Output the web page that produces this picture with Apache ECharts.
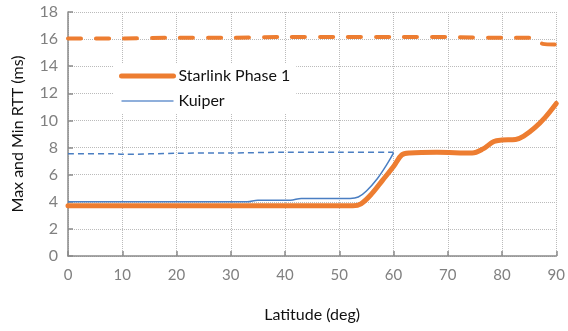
<!DOCTYPE html>
<html>
<head>
<meta charset="utf-8">
<script src="https://cdn.jsdelivr.net/npm/echarts@6/dist/echarts.min.js"></script>
<style>
  html, body { margin: 0; padding: 0; background: #fff; }
  #chart { width: 568px; height: 331px; }
</style>
</head>
<body>
<div id="chart"></div>
<script>
// latitude (deg) / RTT (ms)
var starMinLat = [0, 52.5, 54, 56, 58, 60, 61.5, 63, 68, 74.5, 76.5, 78.5, 80, 82.5, 84, 86, 88, 90];
var starMinVal = [3.7, 3.7, 3.85, 4.6, 5.6, 6.6, 7.45, 7.6, 7.65, 7.6, 7.9, 8.45, 8.55, 8.6, 8.85, 9.45, 10.25, 11.25];

var starMaxLat = [0, 10, 20, 30, 40, 50, 60, 70, 80, 86, 87.5, 90];
var starMaxVal = [16.05, 16.05, 16.1, 16.1, 16.15, 16.15, 16.15, 16.15, 16.1, 16.1, 15.65, 15.6];

var kuiperMinLat = [0, 33, 35, 41, 43, 52, 53.5, 55, 57, 59, 60];
var kuiperMinVal = [4.0, 4.0, 4.12, 4.12, 4.25, 4.25, 4.35, 4.8, 5.7, 6.9, 7.6];

var kuiperMaxLat = [0, 8, 10, 20, 30, 40, 50, 60];
var kuiperMaxVal = [7.55, 7.55, 7.5, 7.58, 7.6, 7.65, 7.65, 7.65];

var orange = "#ED7D31";
var blue = "#4A7EC2";

function pairs(xs, ys) {
  return xs.map(function (x, i) { return [x, ys[i]]; });
}

var chart = echarts.init(document.getElementById("chart"));
chart.setOption({
  animation: false,
  textStyle: { fontFamily: "Lato" },
  grid: { left: 68, right: 11, top: 12, bottom: 75 },
  legend: {
    left: 113,
    top: 64,
    orient: "vertical",
    backgroundColor: "#fff",
    padding: [4, 6, 4, 6],
    itemWidth: 52,
    itemHeight: 14,
    itemGap: 9,
    itemStyle: { opacity: 0 },
    textStyle: { fontSize: 16, color: "#111" },
    data: [
      { name: "Starlink Phase 1", lineStyle: { width: 5, color: orange } },
      { name: "Kuiper", lineStyle: { width: 1.5, color: "#6a95cf" } }
    ]
  },
  xAxis: {
    type: "value",
    min: 0,
    max: 90,
    interval: 10,
    name: "Latitude (deg)",
    nameLocation: "middle",
    nameGap: 51,
    nameTextStyle: { fontSize: 16, color: "#111" },
    axisLine: { lineStyle: { color: "#8a8a8a", width: 1.5 } },
    axisTick: { inside: true, length: 5, lineStyle: { color: "#8a8a8a", width: 1.5 } },
    axisLabel: { fontSize: 15, color: "#808080", margin: 12 },
    splitLine: { show: true, lineStyle: { type: "dotted", color: "#bbb" } }
  },
  yAxis: {
    type: "value",
    min: 0,
    max: 18,
    interval: 2,
    name: "Max and Min RTT (ms)",
    nameLocation: "middle",
    nameGap: 42,
    nameTextStyle: { fontSize: 16, color: "#111" },
    axisLine: { show: true, lineStyle: { color: "#8a8a8a", width: 1.5 } },
    axisTick: { show: true, inside: true, length: 5, lineStyle: { color: "#8a8a8a", width: 1.5 } },
    axisLabel: { fontSize: 16, color: "#808080", margin: 10 },
    splitLine: { show: true, lineStyle: { type: "dotted", color: "#bbb" } }
  },
  series: [
    {
      name: "Starlink Phase 1",
      type: "line",
      symbol: "none",
      smooth: 0.35,
      lineStyle: { color: orange, width: 5, cap: "round", join: "round" },
      itemStyle: { color: orange },
      data: pairs(starMinLat, starMinVal),
      z: 3
    },
    {
      name: "Starlink Max",
      type: "line",
      symbol: "none",
      smooth: 0.3,
      lineStyle: { color: orange, width: 4, type: [13, 15], cap: "round" },
      itemStyle: { color: orange },
      data: pairs(starMaxLat, starMaxVal),
      z: 3
    },
    {
      name: "Kuiper",
      type: "line",
      symbol: "none",
      smooth: 0.35,
      lineStyle: { color: blue, width: 1.5 },
      itemStyle: { color: blue },
      data: pairs(kuiperMinLat, kuiperMinVal),
      z: 2
    },
    {
      name: "Kuiper Max",
      type: "line",
      symbol: "none",
      smooth: 0.3,
      lineStyle: { color: blue, width: 1.5, type: [6, 4] },
      itemStyle: { color: blue },
      data: pairs(kuiperMaxLat, kuiperMaxVal),
      z: 2
    }
  ]
});
</script>
</body>
</html>
